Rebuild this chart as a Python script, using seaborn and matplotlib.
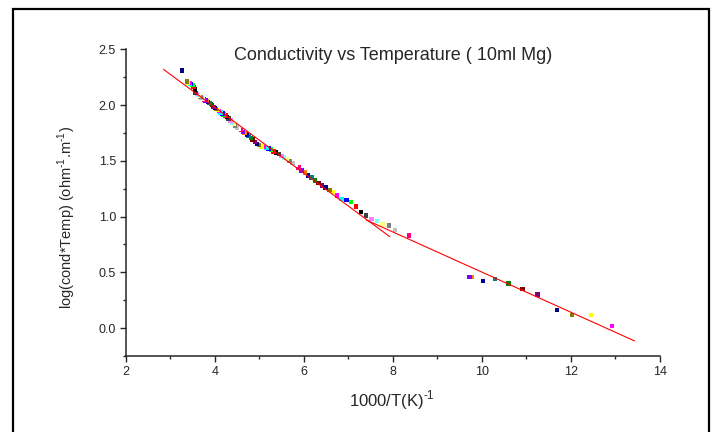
import matplotlib
matplotlib.use("Agg")
import numpy as np
import pandas as pd
import matplotlib.pyplot as plt
import seaborn as sns
from matplotlib.patches import Rectangle
from matplotlib.ticker import MultipleLocator

# 1000/T values, listed from the coldest point (largest 1000/T) downwards
inv_temp = [12.92, 12.45, 12.02, 11.69, 11.25, 10.91, 10.60, 10.29, 10.03, 9.78, 9.72,
            8.36, 8.20, 8.05, 7.91, 7.77, 7.64, 7.52, 7.39, 7.28, 7.17, 7.06, 6.96, 6.85, 6.75, 6.66,
            6.58, 6.49, 6.41, 6.33, 6.25, 6.17, 6.10, 6.02, 5.95, 5.88,
            5.81, 5.75, 5.68, 5.62, 5.56, 5.50, 5.44, 5.38, 5.32, 5.26,
            5.21, 5.16, 5.10, 5.05, 5.00, 4.95, 4.90, 4.85, 4.81, 4.76,
            4.72, 4.67, 4.63, 4.59, 4.55, 4.50, 4.46, 4.43, 4.39, 4.35,
            4.31, 4.27, 4.24, 4.20, 4.17, 4.13, 4.10, 4.07, 4.03, 4.00,
            3.97, 3.94, 3.91, 3.88, 3.85, 3.82, 3.79, 3.76, 3.73, 3.70,
            3.68, 3.65, 3.62, 3.60, 3.57, 3.55, 3.52, 3.50, 3.47, 3.45,
            3.43, 3.40, 3.38, 3.26]

log_cond_temp = [0.02, 0.12, 0.12, 0.16, 0.30, 0.35, 0.40, 0.44, 0.42, 0.46, 0.46,
                 0.83, 0.86, 0.88, 0.92, 0.93, 0.96, 0.98, 1.01, 1.04, 1.09, 1.13, 1.15, 1.16, 1.19, 1.22,
                 1.24, 1.26, 1.28, 1.30, 1.325, 1.35, 1.37, 1.395, 1.415, 1.44,
                 1.46, 1.48, 1.50, 1.515, 1.53, 1.545, 1.56, 1.575, 1.585, 1.60,
                 1.61, 1.615, 1.625, 1.63, 1.64, 1.65, 1.67, 1.69, 1.705, 1.72,
                 1.735, 1.75, 1.76, 1.775, 1.785, 1.80, 1.815, 1.83, 1.845, 1.86,
                 1.88, 1.895, 1.905, 1.915, 1.925, 1.935, 1.945, 1.955, 1.965, 1.975,
                 1.985, 2.00, 2.01, 2.02, 2.025, 2.035, 2.04, 2.05, 2.055, 2.065,
                 2.07, 2.08, 2.09, 2.10, 2.11, 2.14, 2.16, 2.18, 2.19, 2.19,
                 2.20, 2.20, 2.21, 2.31]

# linear fits (high temperature and low temperature regions)
fit1_x = [2.85, 7.93]
fit1_y = [2.32, 0.82]
fit2_x = [7.40, 13.43]
fit2_y = [0.97, -0.115]

# Origin default colour increment list
origin_colors = ["#000000", "#FF0000", "#00FF00", "#0000FF", "#00FFFF", "#FF00FF",
                 "#FFFF00", "#808000", "#000080", "#800080", "#800000", "#008000",
                 "#008080", "#0000A0", "#FF8000", "#8000FF", "#FF0080", "#FFFFFF",
                 "#C0C0C0", "#808080", "#FFFF80", "#80FFFF", "#FF80FF", "#404040"]

df = pd.DataFrame({"inv_T": inv_temp, "logcT": log_cond_temp})
df["series"] = [f"s{i}" for i in range(len(df))]
palette = {s: origin_colors[(5 + i) % 24] for i, s in enumerate(df["series"])}

sns.set_style("ticks")
plt.rcParams["font.family"] = ["Liberation Sans", "DejaVu Sans"]
plt.rcParams["mathtext.fontset"] = "custom"
plt.rcParams["mathtext.rm"] = "Liberation Sans"

fig = plt.figure(figsize=(7.13, 4.32), dpi=100)
ax = fig.add_axes([0.1763, 0.1759, 0.9257 - 0.1763, 0.8859 - 0.1759])

sns.scatterplot(data=df, x="inv_T", y="logcT", hue="series", palette=palette,
                marker="s", s=10, linewidth=0, legend=False, ax=ax, zorder=2)
sns.lineplot(x=fit1_x, y=fit1_y, color="red", linewidth=0.8, sort=False, ax=ax, zorder=3)
sns.lineplot(x=fit2_x, y=fit2_y, color="red", linewidth=0.8, sort=False, ax=ax, zorder=3)

ax.set_xlim(2, 14)
ax.set_ylim(-0.25, 2.5)
ax.xaxis.set_major_locator(MultipleLocator(2))
ax.xaxis.set_minor_locator(MultipleLocator(1))
ax.yaxis.set_major_locator(MultipleLocator(0.5))
ax.yaxis.set_minor_locator(MultipleLocator(0.25))
ax.yaxis.set_major_formatter(matplotlib.ticker.FormatStrFormatter("%.1f"))

sns.despine(ax=ax)
for side in ["left", "bottom"]:
    ax.spines[side].set_linewidth(1.1)
ax.tick_params(which="major", direction="out", length=4, width=1, labelsize=9, pad=3)
ax.tick_params(which="minor", direction="out", length=2.5, width=1)

sup = r"$^{\mathrm{\text{-}1}}$"
ax.set_xlabel("1000/T(K)" + sup, fontsize=12)
ax.set_ylabel("log(cond*Temp) (ohm" + sup + ".m" + sup + ")", fontsize=10.5)
ax.xaxis.set_label_coords(0.498, -0.105)
ax.yaxis.set_label_coords(-0.089, 0.453)

ax.text(0.5, 0.981, "Conductivity vs Temperature ( 10ml Mg)", transform=ax.transAxes,
        ha="center", va="center", fontsize=13)

# outer frame around the whole graph page
fig.patches.append(Rectangle((13 / 713, -0.02), (709 - 13) / 713, (432 - 9) / 432 + 0.02,
                             transform=fig.transFigure, fill=False, edgecolor="black",
                             linewidth=1.6))

fig.savefig("out.png", dpi=100)
